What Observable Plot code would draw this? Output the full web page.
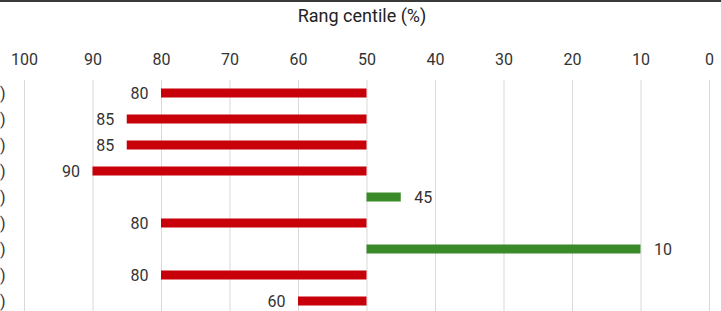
<!DOCTYPE html>
<html>
<head>
<meta charset="utf-8">
<script src="https://cdn.jsdelivr.net/npm/d3@7"></script>
<script src="https://cdn.jsdelivr.net/npm/@observablehq/plot@0.6"></script>
<style>
  html, body { margin: 0; padding: 0; background: #fff; overflow: hidden; }
  #topline { height: 2px; background: #3a3a3a; width: 721px; }
  #chart svg { display: block; font-family: Roboto, sans-serif; }
</style>
</head>
<body>
<div id="topline"></div>
<div id="chart"></div>
<script>
const categories = ["r1", "r2", "r3", "r4", "r5", "r6", "r7", "r8", "r9"];
const values = [80, 85, 85, 90, 45, 80, 10, 80, 60];
const baseline = 50;
const xTicks = [100, 90, 80, 70, 60, 50, 40, 30, 20, 10, 0];
const title = "Rang centile (%)";
const rowLabel = ")";

const data = categories.map((c, i) => ({cat: c, v: values[i]}));
const above = data.filter(d => d.v > baseline);
const below = data.filter(d => d.v <= baseline);
const red = "#c8000a", green = "#3b8a2a";

const chart = Plot.plot({
  width: 721,
  height: 309,
  marginTop: 78,
  marginBottom: 0,
  marginLeft: 24,
  marginRight: 12,
  style: {fontFamily: "Roboto, sans-serif", fontSize: "16px", color: "#333", background: "#fff"},
  x: {domain: [100, 0], ticks: xTicks},
  y: {type: "band", domain: categories, range: [78, 312], padding: 0},
  marks: [
    Plot.gridX(xTicks, {stroke: "#d9d9d9", strokeOpacity: 1, strokeWidth: 1}),
    Plot.axisX({anchor: "top", ticks: xTicks, tickSize: 0, tickPadding: 16, fontSize: 16,
      fill: "#333", label: null}),
    Plot.text([title], {frameAnchor: "top", dy: -64, dx: -5, fontSize: 18, fill: "#222",
      fontWeight: "normal", lineAnchor: "middle"}),
    Plot.axisY({anchor: "left", tickSize: 0, tickPadding: 19, tickFormat: () => rowLabel,
      fontSize: 16, fill: "#333", label: null}),
    Plot.barX(data, {y: "cat", x1: baseline, x2: "v", fill: d => d.v > baseline ? red : green,
      insetTop: 8.5, insetBottom: 8.5}),
    Plot.text(above, {y: "cat", x: "v", text: d => String(d.v), textAnchor: "end",
      dx: -13, fill: "#333", fontSize: 16}),
    Plot.text(below, {y: "cat", x: "v", text: d => String(d.v), textAnchor: "start",
      dx: 13, fill: "#333", fontSize: 16}),
  ]
});
document.getElementById("chart").appendChild(chart);
</script>
</body>
</html>
